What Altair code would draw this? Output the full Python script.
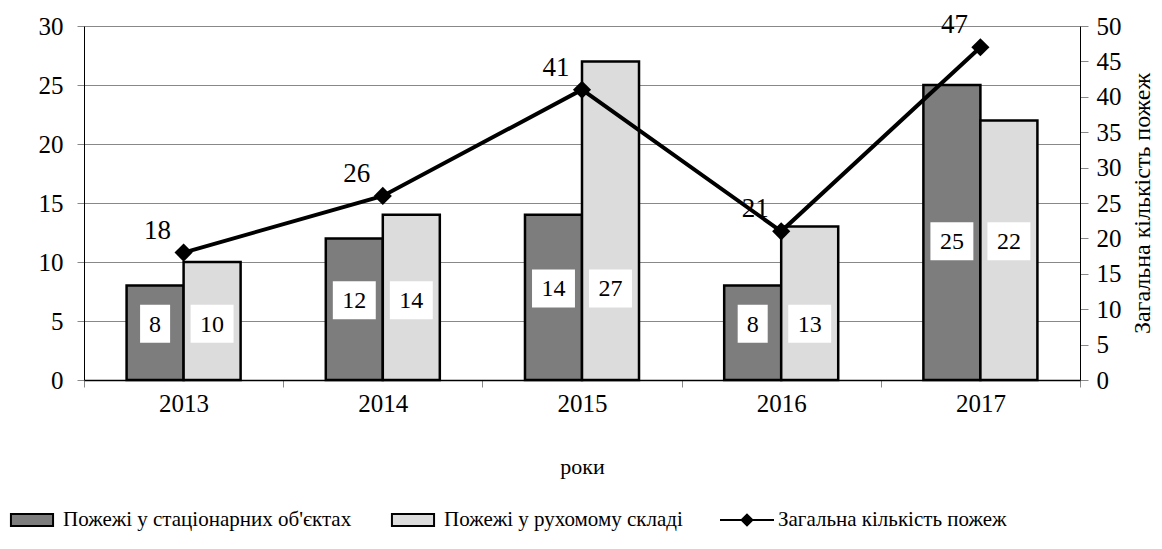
import altair as alt
import pandas as pd

years = ["2013", "2014", "2015", "2016", "2017"]
stationary = [8, 12, 14, 8, 25]
mobile = [10, 14, 27, 13, 22]
total = [18, 26, 41, 21, 47]

s1 = "Пожежі у стаціонарних об'єктах"
s2 = "Пожежі у рухомому складі"
s3 = "Загальна кількість пожеж"
x_title = "роки"

left_ticks = list(range(0, 31, 5))
right_ticks = list(range(0, 51, 5))

FONT = "Liberation Serif"

rows = []
for i, yr in enumerate(years):
    base = min(stationary[i], mobile[i]) / 2
    for s, vals in ((s1, stationary), (s2, mobile)):
        v = vals[i]
        rows.append(dict(year=yr, series=s, value=v, label=str(v),
                         digits=len(str(v)), label_y=base))
bars_df = pd.DataFrame(rows)
line_df = pd.DataFrame({"year": years, "total": total, "series": s3,
                        "label": [str(v) for v in total]})
legend_df = pd.DataFrame({"series": [s1, s2, s3]})

x_enc = alt.X("year:N", sort=years,
              scale=alt.Scale(paddingInner=0, paddingOuter=0),
              axis=alt.Axis(title=x_title, tickBand="extent", labelAngle=0,
                            labelFont=FONT, labelFontSize=25, labelColor="black",
                            titleFont=FONT, titleFontSize=22, titleFontWeight="normal",
                            titleColor="black", titlePadding=40,
                            tickColor="#888888", tickSize=7, labelPadding=4,
                            domainColor="black", domainWidth=1.5))
xoff = alt.XOffset("series:N", sort=[s1, s2],
                   scale=alt.Scale(domain=[s1, s2], paddingInner=0, paddingOuter=0.747))

y_left = alt.Y("value:Q", scale=alt.Scale(domain=[0, 30], nice=False),
               axis=alt.Axis(values=left_ticks, title=None, grid=True,
                             gridColor="#888888", tickColor="#888888", tickSize=7,
                             domainColor="black", labelPadding=14,
                             labelFont=FONT, labelFontSize=25, labelColor="black"))

fill_scale = alt.Scale(domain=[s1, s2, s3], range=["#7d7d7d", "#dcdcdc", "black"])
legend = alt.Legend(orient="none", legendX=-80, legendY=466,
                    title=None, direction="horizontal",
                    symbolSize=2916, symbolStrokeColor="black",
                    labelFont=FONT, labelFontSize=21, labelColor="black",
                    labelLimit=0, labelOffset=3, columnPadding=33)

bars = alt.Chart(bars_df).mark_bar(stroke="black", strokeWidth=2.5).encode(
    x=x_enc, xOffset=xoff, y=y_left,
    fill=alt.Fill("series:N", scale=fill_scale, legend=legend),
)

box_1 = "M-0.79,-1H0.79V1H-0.79Z"
box_2 = "M-1.13,-1H1.13V1H-1.13Z"


def box_layer(nd, path):
    return alt.Chart(bars_df).transform_filter(f"datum.digits == {nd}").mark_point(
        shape=path, filled=True, fill="white", opacity=1, size=1444,
        yOffset=-9, strokeWidth=0).encode(
        x=x_enc, xOffset=xoff, y=alt.Y("label_y:Q"))


bar_text = alt.Chart(bars_df).mark_text(font=FONT, fontSize=24, yOffset=-8,
                                        baseline="middle", color="black").encode(
    x=x_enc, xOffset=xoff, y=alt.Y("label_y:Q"), text="label:N",
)
left_layer = alt.layer(bars, box_layer(1, box_1), box_layer(2, box_2), bar_text)

y_right = alt.Y("total:Q", scale=alt.Scale(domain=[0, 50], nice=False),
                axis=alt.Axis(orient="right", values=right_ticks, grid=False,
                              title=s3, titleAngle=270, titleFont=FONT, titleFontSize=24,
                              titleFontWeight="normal", titleColor="black", titlePadding=33,
                              tickColor="#888888", tickSize=8, domainColor="black",
                              labelPadding=8, labelFont=FONT, labelFontSize=25,
                              labelColor="black"))

line = alt.Chart(line_df).mark_line(strokeWidth=4, color="black").encode(
    x=x_enc, y=y_right,
)
points = alt.Chart(line_df).mark_point(shape="diamond", filled=True, size=330,
                                       color="black", opacity=1).encode(
    x=x_enc, y=y_right,
)
line_text = alt.Chart(line_df).mark_text(font=FONT, fontSize=27, dx=-26, dy=-22,
                                         color="black").encode(
    x=x_enc, y=y_right, text="label:N",
)
right_layer = alt.layer(line, points, line_text)

rect_sym = "M-0.78,-0.22H0.78V0.22H-0.78Z"
line_sym = "M-1,0H1M0,-0.2L0.2,0L0,0.2L-0.2,0Z"
legend_layer = alt.Chart(legend_df).transform_filter("false").mark_point(
    filled=True, stroke="black", opacity=1).encode(
    fill=alt.Fill("series:N", scale=fill_scale, legend=legend),
    shape=alt.Shape("series:N", scale=alt.Scale(domain=[s1, s2, s3],
                                                range=[rect_sym, rect_sym, line_sym]),
                    legend=legend),
    strokeWidth=alt.StrokeWidth("series:N", scale=alt.Scale(domain=[s1, s2, s3],
                                                            range=[2, 2, 4]),
                                legend=legend),
)

chart = alt.layer(left_layer, right_layer, legend_layer).resolve_scale(
    y="independent"
).properties(
    width=996, height=354,
    autosize=alt.AutoSizeParams(type="none"),
    padding={"left": 76, "top": 18, "right": 74, "bottom": 161},
).configure_view(stroke=None).configure(background="white")

chart.save("out.html", embed_options={"renderer": "svg", "actions": False})
